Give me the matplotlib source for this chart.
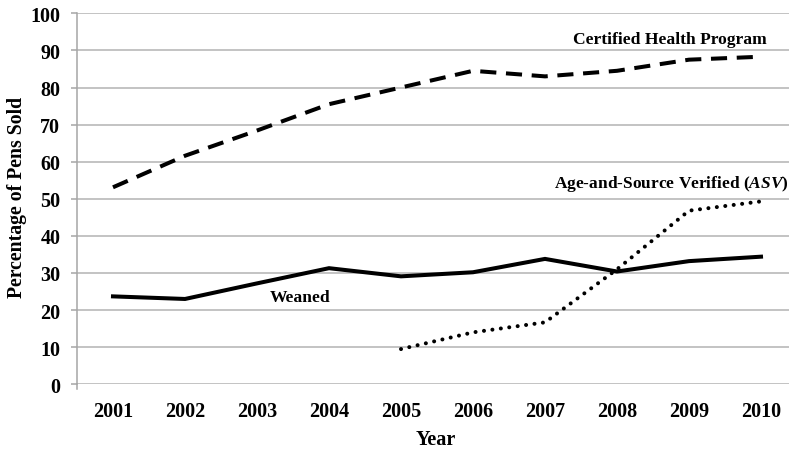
import matplotlib
matplotlib.use("Agg")
import matplotlib.pyplot as plt
from matplotlib.lines import Line2D

years = ["2001", "2002", "2003", "2004", "2005", "2006", "2007", "2008", "2009", "2010"]
certified = [53.1, 61.6, 68.4, 75.5, 80.0, 84.5, 83.0, 84.5, 87.5, 88.3]
weaned = [23.7, 23.0, 27.2, 31.3, 29.1, 30.2, 33.8, 30.4, 33.2, 34.4]
asv_years = ["2005", "2006", "2007", "2008", "2009", "2010"]
asv = [9.5, 14.0, 16.7, 31.0, 46.8, 49.3]
yticks = [0, 10, 20, 30, 40, 50, 60, 70, 80, 90, 100]

plt.rcParams['font.family'] = ['Liberation Serif', 'DejaVu Serif']
plt.rcParams['font.weight'] = 'bold'
plt.rcParams['mathtext.fontset'] = 'custom'
plt.rcParams['mathtext.it'] = 'Liberation Serif:italic:bold'
plt.rcParams['mathtext.rm'] = 'Liberation Serif:bold'

fig = plt.figure(figsize=(7.89, 4.52), dpi=100)
ax = fig.add_axes([77/789, 1 - 385.3/452, 712/789, (385.3 - 14.3)/452])

xpos = {y: i for i, y in enumerate(years)}
x = [xpos[y] for y in years]
xa = [xpos[y] for y in asv_years]

lw = 2.9
ax.plot(x, certified, color='black', lw=lw, linestyle=(0, (4.0, 2.4)), dash_capstyle='butt', zorder=3)
ax.plot(x, weaned, color='black', lw=lw, linestyle='-', solid_joinstyle='miter', zorder=3)
ax.plot(xa, asv, color='black', lw=lw, linestyle=(0, (0.01, 2.1)), dash_capstyle='round', zorder=3)

ax.set_xlim(-0.5, -0.5 + 712/72)
ax.set_ylim(0, 100)
ax.set_yticks(yticks)
ax.set_yticklabels([str(v) for v in yticks])
ax.set_xticks(x)
ax.set_xticklabels(years)

ax.grid(axis='y', color='#b3b3b3', lw=1.1, zorder=0)
ax.set_axisbelow(True)
for s in ['top', 'right', 'bottom']:
    ax.spines[s].set_visible(False)
ax.spines['left'].set_color('#a6a6a6')
ax.spines['left'].set_linewidth(1.1)

ax.tick_params(axis='y', length=4, width=1.1, color='#a6a6a6', pad=8, labelsize=14.5)
ax.tick_params(axis='x', length=0, pad=12, labelsize=14.5)
for lab in ax.get_xticklabels() + ax.get_yticklabels():
    lab.set_fontweight('bold')

ax.add_line(Line2D([0, 0], [0, -5/371], transform=ax.transAxes, color='#a6a6a6', lw=1.1, clip_on=False))

ax.set_ylabel("Percentage of Pens Sold", fontsize=14.2, fontweight='bold', va='center')
ax.yaxis.set_label_coords(-0.084, 0.507)
ax.set_xlabel("Year", fontsize=14.5, fontweight='bold', va='center')
ax.xaxis.set_label_coords(0.504, -0.147)

ax.text(7.74, 93.1, "Certified Health Program", ha='center', va='center', fontsize=12.6, fontweight='bold')
ax.text(7.76, 54.3, r"Age-and-Source Verified ($\mathit{ASV}$)", ha='center', va='center', fontsize=12.5, fontweight='bold')
ax.text(2.6, 23.4, "Weaned", ha='center', va='center', fontsize=12.6, fontweight='bold')

fig.savefig("out.png", dpi=100)
